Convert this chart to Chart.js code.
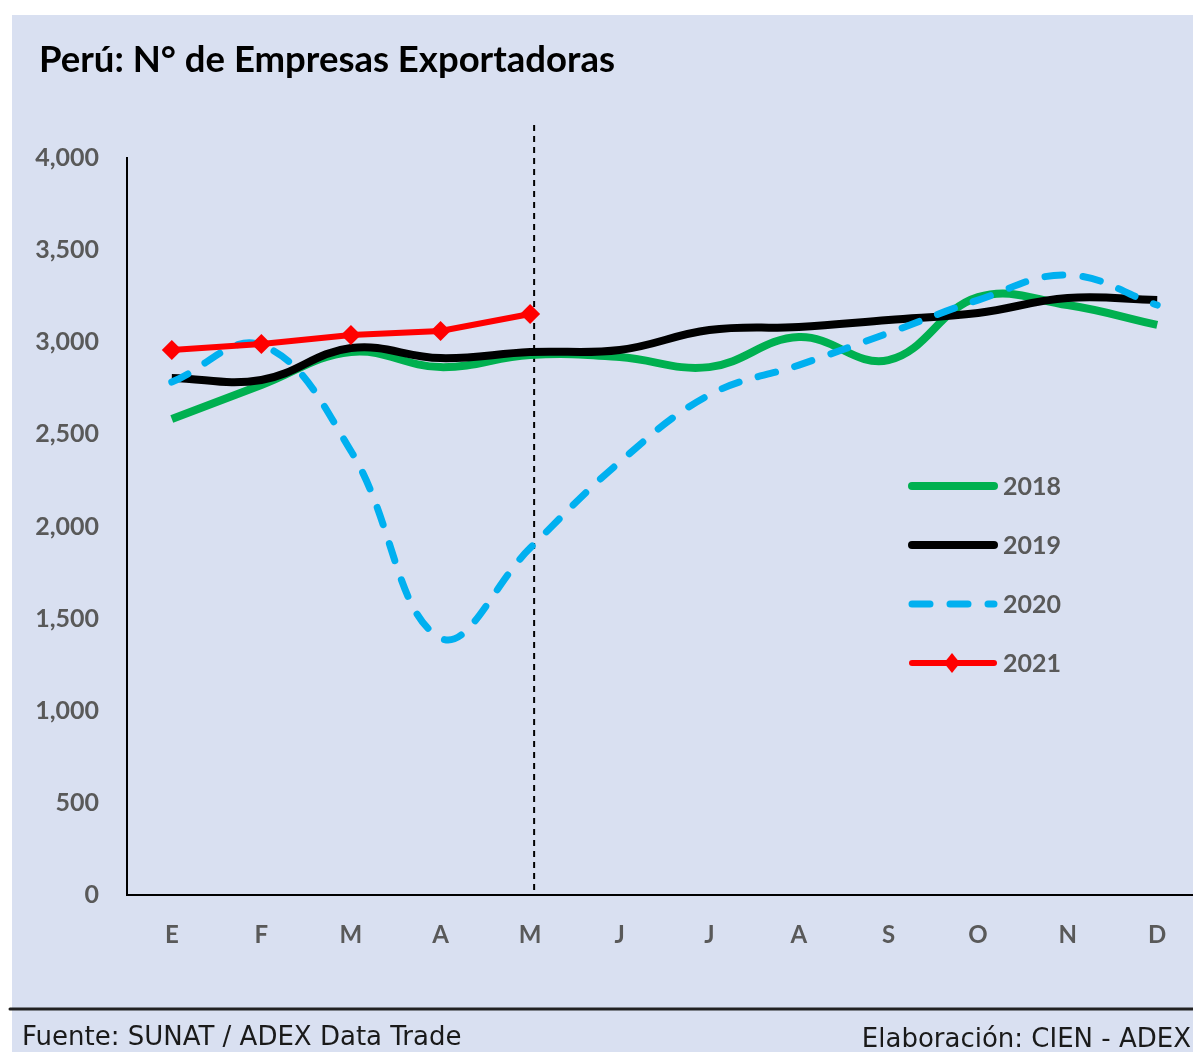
<!DOCTYPE html>
<html>
<head>
<meta charset="utf-8">
<script src="https://cdn.jsdelivr.net/npm/chart.js@4"></script>
<style>
  html, body { margin: 0; padding: 0; background: #ffffff; overflow: hidden; }
  #wrap { position: relative; width: 1215px; height: 1052px; }
</style>
</head>
<body>
<div id="wrap"><canvas id="exportChart" width="1215" height="1052"></canvas></div>
<script>
// Meses (E = enero ... D = diciembre)
const months = ['E', 'F', 'M', 'A', 'M', 'J', 'J', 'A', 'S', 'O', 'N', 'D'];
const years = ['2018', '2019', '2020', '2021'];

// Número de empresas exportadoras por mes
const data2018 = [2583, 2768, 2947, 2865, 2931, 2920, 2865, 3028, 2903, 3245, 3202, 3094];
const data2019 = [2806, 2795, 2969, 2914, 2947, 2958, 3066, 3083, 3121, 3159, 3240, 3229];
const data2020 = [2784, 2985, 2410, 1395, 1883, 2350, 2714, 2876, 3050, 3229, 3365, 3202];
const data2021 = [2958, 2990, 3039, 3061, 3153];

const yTicks = [0, 500, 1000, 1500, 2000, 2500, 3000, 3500, 4000];

const BG = '#d9e0f1';
const GRAY = '#595959';

// fondo, titulo, linea de corte, leyenda y pie de pagina
const decorPlugin = {
    id: 'decor',
    beforeDraw(chart) {
        const ctx = chart.ctx;
        ctx.save();
        ctx.fillStyle = BG;
        ctx.fillRect(12, 15, chart.width - 12, chart.height - 15);
        ctx.restore();
    },
    beforeDatasetsDraw(chart) {
        // linea vertical punteada en mayo
        const ctx = chart.ctx;
        const x = chart.scales.x.getPixelForValue(4) + 4;
        ctx.save();
        ctx.strokeStyle = '#000';
        ctx.lineWidth = 2;
        ctx.setLineDash([6, 5]);
        ctx.beginPath();
        ctx.moveTo(x, 125);
        ctx.lineTo(x, chart.chartArea.bottom);
        ctx.stroke();
        ctx.restore();
    },
    afterDraw(chart) {
        const ctx = chart.ctx;
        ctx.save();

        // titulo
        ctx.fillStyle = '#000';
        ctx.font = 'bold 36.5px Lato';
        ctx.textBaseline = 'middle';
        ctx.textAlign = 'left';
        ctx.fillText('Perú: N° de Empresas Exportadoras', 39, 60);

        // leyenda
        const legendY = [486, 545, 604, 663];
        chart.data.datasets.forEach((ds, i) => {
            const y = legendY[i];
            ctx.strokeStyle = ds.borderColor;
            ctx.lineWidth = ds.borderWidth;
            ctx.lineCap = 'round';
            ctx.setLineDash(ds.borderDash || []);
            ctx.beginPath();
            ctx.moveTo(912, y);
            ctx.lineTo(994, y);
            ctx.stroke();
            ctx.setLineDash([]);
            if (ds.pointRadius) {
                const r = ds.pointRadius;
                ctx.fillStyle = ds.borderColor;
                ctx.beginPath();
                ctx.moveTo(952, y - r);
                ctx.lineTo(952 + r * 0.8, y);
                ctx.lineTo(952, y + r);
                ctx.lineTo(952 - r * 0.8, y);
                ctx.closePath();
                ctx.fill();
            }
            ctx.fillStyle = GRAY;
            ctx.font = 'bold 25px Lato';
            ctx.textAlign = 'left';
            ctx.fillText(ds.label, 1003, y + 1);
        });

        // pie de pagina
        ctx.strokeStyle = '#222';
        ctx.lineWidth = 3;
        ctx.beginPath();
        ctx.moveTo(10, 1009);
        ctx.lineTo(chart.width, 1009);
        ctx.stroke();

        ctx.fillStyle = '#1a1a1a';
        ctx.font = '26px "DejaVu Sans"';
        ctx.textBaseline = 'alphabetic';
        ctx.textAlign = 'left';
        ctx.fillText('Fuente: SUNAT / ADEX Data Trade', 22, 1045);
        ctx.textAlign = 'right';
        ctx.fillText('Elaboración: CIEN - ADEX', 1191, 1047);
        ctx.restore();
    }
};

const ctx = document.getElementById('exportChart');
const exportChart = new Chart(ctx, {
    type: 'line',
    data: {
        labels: months,
        datasets: [{
                label: years[0],
                data: data2018,
                borderColor: '#00b050',
                borderWidth: 8,
                tension: 0.4,
                pointRadius: 0,
                order: 4
            },
            {
                label: years[1],
                data: data2019,
                borderColor: '#000000',
                borderWidth: 8,
                tension: 0.4,
                pointRadius: 0,
                order: 3
            },
            {
                label: years[2],
                data: data2020,
                borderColor: '#00b0f0',
                borderWidth: 7,
                borderDash: [18, 20],
                borderCapStyle: 'round',
                tension: 0.4,
                pointRadius: 0,
                order: 2
            },
            {
                label: years[3],
                data: data2021,
                borderColor: '#ff0000',
                backgroundColor: '#ff0000',
                borderWidth: 6,
                tension: 0,
                pointStyle: 'rectRot',
                pointRadius: 10,
                pointBorderWidth: 0,
                order: 1
            }
        ]
    },
    options: {
        responsive: false,
        animation: false,
        layout: {
            padding: { left: 12, top: 158, right: 13, bottom: 0 }
        },
        plugins: {
            legend: { display: false },
            tooltip: { enabled: false }
        },
        scales: {
            x: {
                offset: true,
                grid: { display: false, offset: true },
                border: { display: true, color: '#000', width: 2 },
                ticks: {
                    color: GRAY,
                    font: { family: 'Lato', size: 24, weight: 'bold' },
                    padding: 18
                },
                afterFit: s => { s.height = 1052 - 895; }
            },
            y: {
                min: 0,
                max: 4000,
                grid: { display: false },
                border: { display: true, color: '#000', width: 2 },
                afterBuildTicks: s => { s.ticks = yTicks.map(v => ({ value: v })); },
                ticks: {
                    color: GRAY,
                    font: { family: 'Lato', size: 25, weight: 'bold' },
                    padding: 20,
                    callback: v => v.toLocaleString('en-US')
                },
                afterFit: s => { s.width = 115; }
            }
        }
    },
    plugins: [decorPlugin]
});
</script>
</body>
</html>
